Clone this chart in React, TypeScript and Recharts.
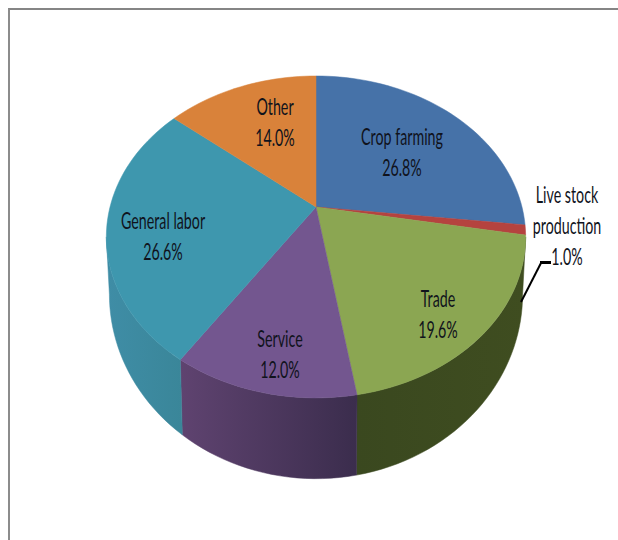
import { Pie, PieChart, Cell } from 'recharts';

const categories = ['Crop farming', 'Live stock production', 'Trade', 'Service', 'General labor', 'Other'];
const shares = [26.8, 1.0, 19.6, 12.0, 26.6, 14.0];
const topColors = ['#4672a8', '#b5433f', '#8ba652', '#73568f', '#3e97ae', '#d9823a'];
const wallLeftColors = ['#36587f', '#8a3330', '#3a481f', '#5f4370', '#3f8da6', '#a5632c'];
const wallRightColors = ['#36587f', '#8a3330', '#3f4d20', '#3b2d4d', '#3a8699', '#a5632c'];

const tableRows = categories.map((name, i) => ({ name, value: shares[i], index: i }));

// Projected rim of the disc: apex of the top face and the lower rim share the same tilt
const CX = 316;
const TILT = -0.186;
const TOP = { y0: 207, a: 155.4, b: 206 };
const BOTTOM = { y0: 260, a: 178, b: 203 };
// clockwise degrees from 12 o'clock where the rim turns out of sight
const WALL_FROM = 100.7;
const WALL_TO = 259.3;

function rimPoint(theta: number, rim: { y0: number; a: number; b: number }) {
  const rad = (theta * Math.PI) / 180;
  const u = Math.sin(rad);
  const v = -Math.cos(rad);
  const d = 1 + TILT * v;
  return [CX + (rim.b * u) / d, rim.y0 + (rim.a * v) / d];
}

function rimPath(from: number, to: number, rim: { y0: number; a: number; b: number }) {
  const steps = Math.max(2, Math.ceil(Math.abs(to - from) / 2));
  const pts: string[] = [];
  for (let i = 0; i <= steps; i++) {
    const p = rimPoint(from + ((to - from) * i) / steps, rim);
    pts.push(`${p[0].toFixed(2)} ${p[1].toFixed(2)}`);
  }
  return pts;
}

function DiscSlice(props: any) {
  const { startAngle, endAngle, index } = props;
  const from = 90 - startAngle;
  const to = 90 - endAngle;
  const fill = topColors[index];
  const top = rimPath(from, to, TOP);
  const wallFrom = Math.max(from, WALL_FROM);
  const wallTo = Math.min(to, WALL_TO);
  let wall = null;
  if (wallTo > wallFrom) {
    const upper = rimPath(wallFrom, wallTo, TOP);
    const lower = rimPath(wallTo, wallFrom, BOTTOM);
    wall = (
      <path
        d={`M${upper.join('L')}L${lower.join('L')}Z`}
        fill={`url(#wall-${index})`}
        stroke={`url(#wall-${index})`}
        strokeWidth={0.5}
      />
    );
  }
  return (
    <g>
      {wall}
      <path d={`M${CX} ${TOP.y0}L${top.join('L')}Z`} fill={fill} stroke={fill} strokeWidth={0.5} />
    </g>
  );
}

// anchor of the first text line for every slice
const labelAnchors: Record<string, { x: number; y: number }> = {
  'Crop farming': { x: 402, y: 136 },
  'Live stock production': { x: 567, y: 194 },
  Trade: { x: 438, y: 298 },
  Service: { x: 280, y: 338 },
  'General labor': { x: 163, y: 220 },
  Other: { x: 275, y: 106 },
};

function SliceLabel(props: any) {
  const name = categories[props.index];
  const anchor = labelAnchors[name];
  const lines = name === 'Live stock production' ? ['Live stock', 'production'] : [name];
  lines.push(`${shares[props.index].toFixed(1)}%`);
  return (
    <g>
      {name === 'Live stock production' && (
        <>
          <path d="M521 302L541 263" fill="none" stroke="#000" strokeWidth={2} />
          <path d="M540 262.5L551 262.5" fill="none" stroke="#000" strokeWidth={3} />
        </>
      )}
      {lines.map((line, i) => (
        <text
          key={line}
          transform={`translate(${anchor.x} ${anchor.y + i * 30.8}) scale(0.62 1)`}
          textAnchor="middle"
          dominantBaseline="central"
          fontFamily="Lato, sans-serif"
          fontSize={23}
          fill="#10131c"
        >
          {line}
        </text>
      ))}
    </g>
  );
}

export default function App() {
  return (
    <div style={{ position: 'absolute', left: 0, top: 0, width: 618, height: 540, background: '#fff', overflow: 'hidden' }}>
      <div
        style={{
          position: 'absolute',
          left: 8,
          top: 8,
          width: 620,
          height: 540,
          borderTop: '2px solid #858585',
          borderLeft: '2px solid #8c8c8c',
        }}
      />
      <PieChart width={618} height={540} style={{ position: 'absolute', left: 0, top: 0 }}>
        <defs>
          {categories.map((name, i) => (
            <linearGradient key={name} id={`wall-${i}`} x1="0" y1="0" x2="1" y2="0">
              <stop offset="0%" stopColor={wallLeftColors[i]} />
              <stop offset="100%" stopColor={wallRightColors[i]} />
            </linearGradient>
          ))}
        </defs>
        <Pie
          data={tableRows}
          dataKey="value"
          nameKey="name"
          cx={CX}
          cy={TOP.y0}
          outerRadius={TOP.b}
          startAngle={90}
          endAngle={-270}
          paddingAngle={0}
          stroke="none"
          shape={DiscSlice}
          label={SliceLabel}
          labelLine={false}
          isAnimationActive={false}
        >
          {tableRows.map((row, i) => (
            <Cell key={row.name} fill={topColors[i]} />
          ))}
        </Pie>
      </PieChart>
    </div>
  );
}
